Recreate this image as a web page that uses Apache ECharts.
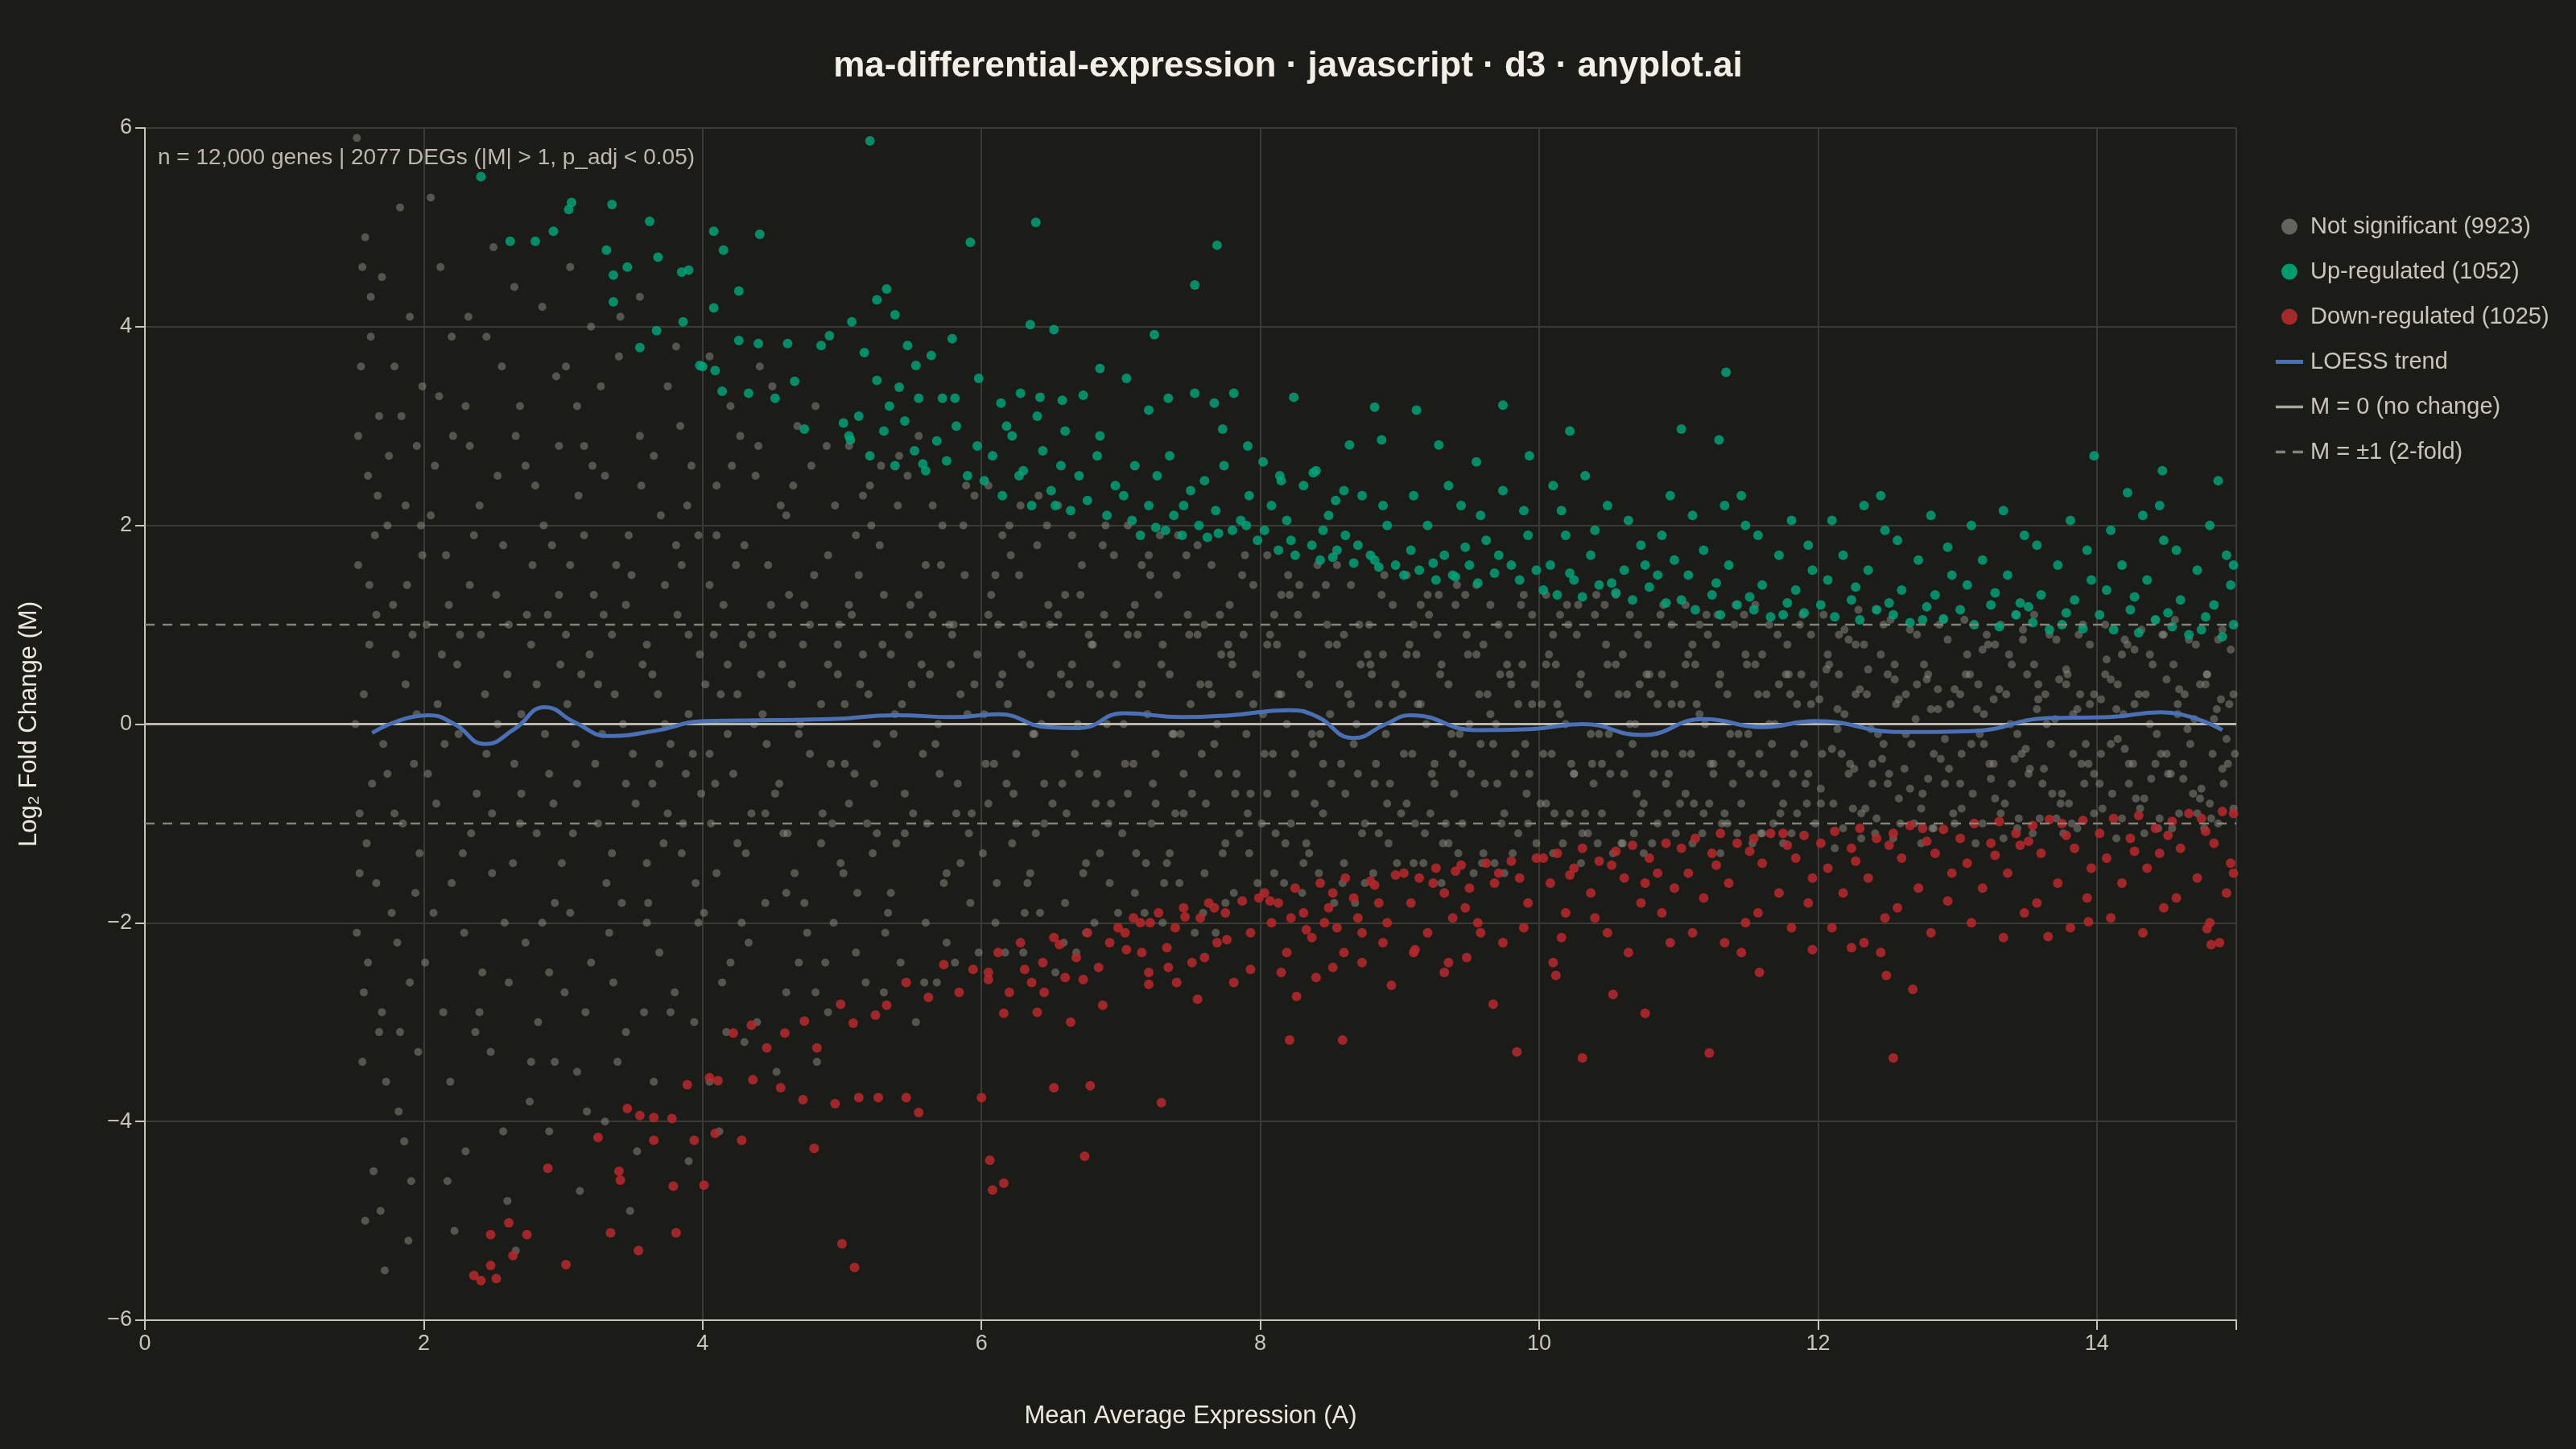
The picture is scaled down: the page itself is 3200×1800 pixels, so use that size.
<!DOCTYPE html>
<html>
<head>
<meta charset="utf-8">
<title>ma-differential-expression</title>
<script src="https://cdn.jsdelivr.net/npm/echarts@6/dist/echarts.min.js"></script>
<style>
  html, body { margin: 0; padding: 0; background: #1b1b18; }
  #chart { width: 3200px; height: 1800px; }
</style>
</head>
<body>
<div id="chart"></div>
<script>
// MA plot data: [A, M] pairs
const notSigPoints = [
  [1.52,5.9],[1.58,4.9],[1.62,4.3],[1.55,3.6],[1.68,3.1],[1.6,2.5],[1.74,2.0],[1.53,1.6],[1.66,1.1],[1.8,0.7],[1.57,0.3],[1.71,-0.2],[1.63,-0.6],[1.85,-1.0],[1.54,-1.5],[1.77,-1.9],[1.6,-2.4],[1.7,-2.9],[1.56,-3.4],[1.82,-3.9],[1.64,-4.5],[1.58,-5.0],[1.72,-5.5],[1.9,4.1],[1.95,2.8],[1.88,1.4],[1.93,-0.4],[1.97,-1.3],[1.9,-2.6],[1.86,-4.2],[1.99,3.4],[1.92,0.9],[1.83,5.2],[1.68,-3.1],[1.75,2.7],[1.61,0.8],[1.79,-0.9],[1.52,-2.1],[1.65,1.9],[1.96,-3.3],
  [1.51,0.0],[1.59,-1.2],[1.67,2.3],[1.73,-3.6],[1.56,4.6],[1.81,-2.2],[1.62,3.9],[1.69,-4.9],[1.78,1.2],[1.54,-0.9],[1.87,0.4],[1.94,-1.7],[1.98,2.0],[1.89,-5.2],[1.84,3.1],
  [1.53,2.9],[1.57,-2.7],[1.61,1.4],[1.66,-1.6],[1.7,4.5],[1.74,-0.5],[1.79,3.6],[1.83,-3.1],[1.87,2.2],[1.91,-4.6],[1.95,0.1],[1.99,1.7],
  [2.05,5.3],[2.12,4.6],[2.2,3.9],[2.3,3.2],[2.08,2.6],[2.4,2.2],[2.16,1.7],[2.52,1.3],[2.26,0.9],[2.6,0.5],[2.1,0.2],[2.45,-0.3],[2.7,-0.7],[2.34,-1.1],[2.2,-1.6],[2.58,-2.0],[2.9,-2.5],[2.14,-2.9],[2.48,-3.3],[2.76,-3.8],[2.3,-4.3],[2.6,-4.8],[2.22,-5.1],[2.85,4.2],[2.95,3.5],[2.66,2.9],[2.8,2.4],[2.92,1.8],[2.74,1.1],[2.98,0.6],[2.87,-0.1],[2.64,-1.4],[2.94,-1.8],[2.82,-3.0],[2.5,4.8],[2.38,-0.7],[2.7,0.1],[2.18,1.2],[2.56,3.6],[2.42,-2.5],[2.66,-5.3],[2.03,-0.5],[2.9,-4.1],[2.33,2.8],[2.78,1.6],
  [2.02,1.0],[2.07,-1.9],[2.11,3.3],[2.15,-0.2],[2.19,-3.6],[2.24,0.6],[2.28,-1.3],[2.32,4.1],[2.36,1.9],[2.4,-2.9],[2.44,0.3],[2.49,-0.9],[2.53,2.5],[2.57,-4.1],[2.61,1.0],[2.65,-0.4],[2.69,3.2],[2.73,-2.2],[2.77,0.8],[2.81,-1.1],[2.86,2.0],[2.9,-0.5],[2.94,-3.4],[2.97,1.3],[2.99,-1.4],
  [2.01,-2.4],[2.05,2.1],[2.09,-0.8],[2.13,0.7],[2.17,-4.6],[2.21,2.9],[2.25,-0.1],[2.29,-2.1],[2.33,1.4],[2.37,-3.1],[2.41,0.9],[2.45,3.9],[2.49,-1.5],[2.53,0.0],[2.57,1.8],[2.61,-2.6],[2.65,4.4],[2.69,-1.0],[2.73,2.6],[2.77,-3.4],[2.81,0.4],[2.85,-2.0],[2.89,1.1],[2.93,-0.8],[2.97,2.8],
  [3.05,4.6],[3.2,4.0],[3.4,3.7],[3.1,3.2],[3.55,2.9],[3.3,2.5],[3.7,2.1],[3.15,1.9],[3.85,1.6],[3.45,1.2],[3.6,0.8],[3.25,0.4],[3.9,0.1],[3.5,-0.3],[3.1,-0.6],[3.75,-0.9],[3.35,-1.3],[3.95,-1.6],[3.6,-2.0],[3.2,-2.4],[3.8,-2.7],[3.45,-3.1],[3.1,-3.5],[3.65,-3.6],[3.3,-4.0],[3.9,-4.4],[3.55,4.3],[3.75,3.4],[3.92,2.6],[3.15,2.8],[3.38,1.6],[3.82,1.1],[3.02,0.9],[3.68,0.3],[3.28,-0.1],[3.88,-0.5],[3.42,-1.8],[3.05,-1.9],[3.72,-1.2],[3.58,-2.9],[3.12,-4.7],[3.48,-4.9],[3.22,1.3],[3.64,-0.6],[3.98,0.7],[3.36,-2.6],[3.84,3.0],[3.02,3.6],
  [3.03,0.2],[3.07,-1.1],[3.11,2.3],[3.16,-2.9],[3.19,0.7],[3.23,-0.4],[3.27,3.4],[3.31,-1.6],[3.35,0.9],[3.39,-3.4],[3.43,0.0],[3.47,1.9],[3.52,-0.8],[3.56,2.4],[3.6,-1.4],[3.64,0.5],[3.69,-2.3],[3.73,1.4],[3.77,-0.2],[3.81,3.8],[3.86,-1.0],[3.9,0.9],[3.94,-3.0],[3.97,1.9],[3.99,-0.7],
  [3.01,-2.7],[3.05,1.6],[3.09,-0.2],[3.13,0.5],[3.17,-3.9],[3.21,2.6],[3.25,-1.0],[3.29,1.1],[3.33,-2.1],[3.37,0.3],[3.41,4.1],[3.45,-0.6],[3.49,1.5],[3.53,-4.3],[3.57,0.6],[3.61,-1.8],[3.65,2.7],[3.69,-0.4],[3.73,0.0],[3.77,-2.9],[3.81,1.8],[3.85,-1.3],[3.89,2.2],[3.93,-0.3],[3.97,-2.0],
  [4.05,3.7],[4.2,3.2],[4.4,2.8],[4.1,2.4],[4.6,2.1],[4.3,1.8],[4.8,1.5],[4.15,1.2],[4.5,0.9],[4.9,0.6],[4.25,0.3],[4.7,0.0],[4.05,-0.3],[4.55,-0.6],[4.35,-0.9],[4.85,-1.2],[4.1,-1.5],[4.45,-1.8],[4.75,-2.1],[4.2,-2.4],[4.6,-2.7],[4.9,-2.9],[4.3,-3.2],[4.05,-3.6],[4.5,3.4],[4.78,2.6],[4.95,2.2],[4.62,1.3],[4.42,0.5],[4.18,-0.1],[4.92,-0.4],[4.66,-1.5],[4.28,-2.0],[4.88,-2.4],[4.12,-4.1],[4.38,2.5],[4.72,0.8],[4.98,1.0],[4.08,0.9],[4.58,-1.1],[4.82,-3.4],[4.24,1.6],[4.46,-0.2],[4.68,3.0],
  [4.02,0.4],[4.06,-1.0],[4.1,1.9],[4.14,-2.6],[4.18,0.6],[4.22,-0.5],[4.27,2.9],[4.31,-1.3],[4.35,0.9],[4.39,-3.0],[4.43,0.1],[4.47,1.6],[4.52,-0.7],[4.56,2.2],[4.6,-1.7],[4.64,0.4],[4.69,-2.4],[4.73,1.2],[4.77,-0.3],[4.81,3.2],[4.86,-0.9],[4.9,1.7],[4.94,-2.0],[4.97,0.5],[4.99,-1.4],
  [4.01,-1.9],[4.05,1.4],[4.09,-0.6],[4.13,0.3],[4.17,-3.1],[4.21,2.6],[4.25,-1.2],[4.29,0.8],[4.33,-2.2],[4.37,0.0],[4.41,3.6],[4.45,-0.9],[4.49,1.2],[4.53,-3.5],[4.57,0.6],[4.61,-1.1],[4.65,2.4],[4.69,-0.1],[4.73,-1.8],[4.77,1.0],[4.81,-2.7],[4.85,0.2],[4.89,2.8],[4.93,-1.0],[4.97,0.8],
  [5.05,2.8],[5.2,2.4],[5.4,2.2],[5.1,1.9],[5.6,1.6],[5.3,1.3],[5.8,1.0],[5.15,0.7],[5.5,0.4],[5.9,0.1],[5.25,-0.2],[5.7,-0.5],[5.05,-0.8],[5.45,-1.1],[5.85,-1.4],[5.35,-1.7],[5.6,-2.0],[5.1,-2.3],[5.75,-2.2],[5.3,-2.7],[5.55,2.9],[5.95,2.3],[5.65,1.1],[5.38,0.1],[5.82,-0.9],[5.22,-1.3],[5.92,-1.8],[5.48,0.9],[5.02,0.2],[5.68,-2.6],[5.12,1.5],[5.78,0.6],[5.58,-0.3],[5.28,2.6],[5.88,1.5],[5.42,-2.4],[5.18,-1.0],[5.72,2.0],
  [5.02,-0.4],[5.07,1.1],[5.11,-1.7],[5.15,2.3],[5.19,0.3],[5.23,-0.6],[5.27,1.8],[5.31,-2.1],[5.35,0.7],[5.39,-1.2],[5.43,0.2],[5.47,2.5],[5.51,-0.9],[5.55,1.3],[5.59,-2.6],[5.63,0.5],[5.67,-0.2],[5.71,1.6],[5.75,-1.5],[5.79,0.9],[5.83,-0.6],[5.87,2.0],[5.91,-1.1],[5.95,0.4],[5.98,-2.3],
  [5.01,-1.5],[5.05,1.2],[5.09,-0.5],[5.13,0.4],[5.17,-2.6],[5.21,2.0],[5.25,-1.1],[5.29,0.8],[5.33,-1.9],[5.37,-0.1],[5.41,2.7],[5.45,-0.7],[5.49,1.2],[5.53,-3.0],[5.57,0.6],[5.61,-1.0],[5.65,2.2],[5.69,0.0],[5.73,-1.6],[5.77,1.0],[5.81,-2.4],[5.85,0.3],[5.89,2.4],[5.93,-0.9],[5.97,0.7],
  [6.05,2.4],[6.2,2.0],[6.4,1.8],[6.1,1.5],[6.6,1.3],[6.3,1.0],[6.8,0.8],[6.15,0.5],[6.5,0.3],[6.9,0.0],[6.25,-0.3],[6.7,-0.5],[6.05,-0.8],[6.45,-1.0],[6.85,-1.3],[6.35,-1.5],[6.6,-1.8],[6.1,-2.0],[6.75,-2.1],[6.3,-2.3],[6.55,2.2],[6.95,1.7],[6.65,0.6],[6.38,-0.1],[6.82,-0.8],[6.22,-1.2],[6.92,-1.6],[6.48,1.2],[6.02,0.1],[6.68,-2.3],[6.12,1.0],[6.78,0.4],[6.58,-0.6],[6.28,2.2],[6.88,1.1],[6.42,-1.9],[6.18,-0.6],[6.72,1.6],
  [6.03,-0.4],[6.07,1.3],[6.11,-1.6],[6.15,1.9],[6.19,0.2],[6.23,-0.7],[6.27,1.5],[6.31,-1.9],[6.35,0.6],[6.39,-1.1],[6.43,0.0],[6.47,2.0],[6.51,-0.8],[6.55,1.1],[6.59,-2.2],[6.63,0.4],[6.67,-0.3],[6.71,1.3],[6.75,-1.4],[6.79,0.8],[6.83,-0.5],[6.87,1.8],[6.91,-1.0],[6.95,0.3],[6.98,-1.9],
  [6.01,-1.3],[6.05,1.1],[6.09,-0.4],[6.13,0.4],[6.17,-2.3],[6.21,1.7],[6.25,-1.0],[6.29,0.7],[6.33,-1.6],[6.37,-0.1],[6.41,2.3],[6.45,-0.6],[6.49,1.0],[6.53,-2.5],[6.57,0.5],[6.61,-0.9],[6.65,1.9],[6.69,0.0],[6.73,-1.5],[6.77,0.9],[6.81,-2.0],[6.85,0.3],[6.89,2.0],[6.93,-0.8],[6.97,0.6],
  [7.05,2.0],[7.2,1.7],[7.4,1.5],[7.1,1.2],[7.6,1.0],[7.3,0.8],[7.8,0.6],[7.15,0.4],[7.5,0.2],[7.9,-0.1],[7.25,-0.3],[7.7,-0.5],[7.05,-0.7],[7.45,-0.9],[7.85,-1.1],[7.35,-1.3],[7.6,-1.5],[7.1,-1.7],[7.75,-1.8],[7.3,-2.0],[7.55,1.8],[7.95,1.4],[7.65,0.3],[7.38,-0.1],[7.82,-0.7],[7.22,-1.0],[7.92,-1.3],[7.48,1.1],[7.02,0.0],[7.68,-2.1],[7.12,0.9],[7.78,1.2],[7.58,-0.3],[7.28,1.9],[7.88,0.9],[7.42,-1.6],[7.18,-1.4],[7.72,0.7],
  [7.03,-0.4],[7.07,1.1],[7.11,-1.3],[7.15,1.6],[7.19,0.1],[7.23,-0.6],[7.27,1.3],[7.31,-1.6],[7.35,0.5],[7.39,-0.9],[7.43,-0.1],[7.47,1.7],[7.51,-0.7],[7.55,0.9],[7.59,-1.9],[7.63,0.4],[7.67,-0.2],[7.71,1.1],[7.75,-1.2],[7.79,0.7],[7.83,-0.5],[7.87,1.5],[7.91,-0.9],[7.95,0.2],[7.98,-1.6],
  [7.01,-1.1],[7.05,0.9],[7.09,-0.4],[7.13,0.3],[7.17,-1.9],[7.21,1.5],[7.25,-0.8],[7.29,0.6],[7.33,-1.4],[7.37,-0.1],[7.41,1.9],[7.45,-0.5],[7.49,0.9],[7.53,-2.1],[7.57,0.4],[7.61,-0.8],[7.65,1.6],[7.69,0.0],[7.73,-1.3],[7.77,0.8],[7.81,-1.7],[7.85,0.3],[7.89,1.7],[7.93,-0.7],[7.97,0.5],
  [8.05,1.7],[8.2,1.5],[8.4,1.3],[8.1,1.1],[8.6,0.9],[8.3,0.7],[8.8,0.5],[8.15,0.3],[8.5,0.1],[8.9,-0.1],[8.25,-0.3],[8.7,-0.5],[8.05,-0.7],[8.45,-0.9],[8.85,-1.1],[8.35,-1.3],[8.6,-1.4],[8.1,-1.5],[8.75,-1.6],[8.3,-1.7],[8.55,1.6],[8.95,1.2],[8.65,0.2],[8.38,-0.2],[8.82,-0.6],[8.22,-1.0],[8.92,-1.2],[8.48,1.0],[8.02,0.1],[8.68,-1.8],[8.12,0.8],[8.78,1.0],[8.58,-0.4],[8.28,1.4],[8.88,0.7],[8.42,-1.5],[8.18,-1.2],[8.72,0.6],
  [8.03,-0.3],[8.07,0.9],[8.11,-1.1],[8.15,1.3],[8.19,0.0],[8.23,-0.5],[8.27,1.1],[8.31,-1.4],[8.35,0.4],[8.39,-0.8],[8.43,-0.1],[8.47,1.4],[8.51,-0.6],[8.55,0.8],[8.59,-1.6],[8.63,0.3],[8.67,-0.2],[8.71,1.0],[8.75,-1.0],[8.79,0.6],[8.83,-0.4],[8.87,1.3],[8.91,-0.8],[8.95,0.2],[8.98,-1.4],
  [8.01,-1.0],[8.05,0.8],[8.09,-0.3],[8.13,0.3],[8.17,-1.6],[8.21,1.3],[8.25,-0.7],[8.29,0.5],[8.33,-1.2],[8.37,-0.1],[8.41,1.6],[8.45,-0.4],[8.49,0.8],[8.53,-1.8],[8.57,0.4],[8.61,-0.7],[8.65,1.4],[8.69,0.0],[8.73,-1.1],[8.77,0.7],[8.81,-1.5],[8.85,0.2],[8.89,1.5],[8.93,-0.6],[8.97,0.4],
  [9.05,1.5],[9.2,1.3],[9.4,1.2],[9.1,1.0],[9.6,0.8],[9.3,0.6],[9.8,0.4],[9.15,0.2],[9.5,0.0],[9.9,-0.2],[9.25,-0.4],[9.7,-0.6],[9.05,-0.8],[9.45,-1.0],[9.85,-1.1],[9.35,-1.2],[9.6,-1.3],[9.1,-1.4],[9.75,-1.5],[9.3,-1.6],[9.55,1.4],[9.95,1.1],[9.65,0.1],[9.38,-0.3],[9.82,-0.5],[9.22,-0.9],[9.92,-1.0],[9.48,0.9],[9.02,0.3],[9.68,-1.4],[9.12,0.7],[9.78,0.9],[9.58,-0.2],[9.28,1.3],[9.88,0.6],[9.42,-1.3],[9.18,-1.1],[9.72,0.5],
  [9.03,-0.3],[9.07,0.8],[9.11,-1.0],[9.15,1.2],[9.19,0.0],[9.23,-0.5],[9.27,0.9],[9.31,-1.2],[9.35,0.4],[9.39,-0.7],[9.43,-0.1],[9.47,1.3],[9.51,-0.5],[9.55,0.7],[9.59,-1.4],[9.63,0.3],[9.67,-0.2],[9.71,1.0],[9.75,-0.9],[9.79,0.5],[9.83,-0.3],[9.87,1.2],[9.91,-0.7],[9.95,0.2],[9.98,-1.2],
  [9.01,-0.9],[9.05,0.7],[9.09,-0.3],[9.13,0.2],[9.17,-1.4],[9.21,1.1],[9.25,-0.6],[9.29,0.5],[9.33,-1.0],[9.37,-0.1],[9.41,1.4],[9.45,-0.4],[9.49,0.7],[9.53,-1.5],[9.57,0.3],[9.61,-0.6],[9.65,1.2],[9.69,0.0],[9.73,-1.0],[9.77,0.6],[9.81,-1.3],[9.85,0.2],[9.89,1.3],[9.93,-0.5],[9.97,0.4],
  [10.05,1.3],[10.2,1.2],[10.4,1.1],[10.1,0.9],[10.6,0.7],[10.3,0.5],[10.8,0.3],[10.15,0.1],[10.5,-0.1],[10.9,-0.3],[10.25,-0.5],[10.7,-0.7],[10.05,-0.8],[10.45,-0.9],[10.85,-1.0],[10.35,-1.1],[10.6,-1.2],[10.1,-1.3],[10.75,-1.3],[10.3,-1.4],[10.55,1.3],[10.95,1.0],[10.65,0.0],[10.38,-0.4],[10.82,-0.5],[10.22,-0.9],[10.92,-0.9],[10.48,0.8],[10.02,0.2],[10.68,-1.1],[10.12,0.6],[10.78,0.8],[10.58,-0.3],[10.28,1.2],[10.88,0.5],[10.42,-1.2],[10.18,-1.0],[10.72,0.4],
  [10.03,-0.3],[10.07,0.7],[10.11,-0.9],[10.15,1.1],[10.19,0.0],[10.23,-0.4],[10.27,0.9],[10.31,-1.1],[10.35,0.3],[10.39,-0.6],[10.43,-0.1],[10.47,1.2],[10.51,-0.5],[10.55,0.6],[10.59,-1.2],[10.63,0.3],[10.67,-0.2],[10.71,0.9],[10.75,-0.8],[10.79,0.5],[10.83,-0.3],[10.87,1.1],[10.91,-0.6],[10.95,0.2],[10.98,-1.1],
  [10.01,-0.8],[10.05,0.6],[10.09,-0.3],[10.13,0.2],[10.17,-1.2],[10.21,1.0],[10.25,-0.5],[10.29,0.4],[10.33,-0.9],[10.37,-0.1],[10.41,1.3],[10.45,-0.4],[10.49,0.6],[10.53,-1.3],[10.57,0.3],[10.61,-0.5],[10.65,1.1],[10.69,0.0],[10.73,-0.9],[10.77,0.5],[10.81,-1.2],[10.85,0.2],[10.89,1.2],[10.93,-0.5],[10.97,0.4],
  [11.05,1.2],[11.2,1.1],[11.4,1.0],[11.1,0.8],[11.6,0.7],[11.3,0.5],[11.8,0.3],[11.15,0.1],[11.5,-0.1],[11.9,-0.2],[11.25,-0.4],[11.7,-0.6],[11.05,-0.7],[11.45,-0.8],[11.85,-0.9],[11.35,-1.0],[11.6,-1.1],[11.1,-1.2],[11.75,-1.2],[11.3,-1.3],[11.55,1.2],[11.95,0.9],[11.65,0.0],[11.38,-0.3],[11.82,-0.5],[11.22,-0.8],[11.92,-0.8],[11.48,0.7],[11.02,0.2],[11.68,-1.0],[11.12,0.6],[11.78,0.8],[11.58,-0.3],[11.28,1.1],[11.88,0.5],[11.42,-1.1],[11.18,-0.9],[11.72,0.4],
  [11.03,-0.3],[11.07,0.7],[11.11,-0.8],[11.15,1.0],[11.19,0.0],[11.23,-0.4],[11.27,0.8],[11.31,-1.0],[11.35,0.3],[11.39,-0.6],[11.43,-0.1],[11.47,1.1],[11.51,-0.5],[11.55,0.6],[11.59,-1.1],[11.63,0.3],[11.67,-0.2],[11.71,0.9],[11.75,-0.8],[11.79,0.5],[11.83,-0.3],[11.87,1.0],[11.91,-0.6],[11.95,0.2],[11.98,-1.0],
  [11.01,-0.8],[11.05,0.6],[11.09,-0.3],[11.13,0.2],[11.17,-1.1],[11.21,0.9],[11.25,-0.5],[11.29,0.4],[11.33,-0.9],[11.37,-0.1],[11.41,1.2],[11.45,-0.4],[11.49,0.6],[11.53,-1.2],[11.57,0.3],[11.61,-0.5],[11.65,1.0],[11.69,0.0],[11.73,-0.9],[11.77,0.5],[11.81,-1.1],[11.85,0.2],[11.89,1.1],[11.93,-0.5],[11.97,0.4],
  [12.04,1.1],[12.19,0.95],[12.33,0.8],[12.08,0.6],[12.55,0.45],[12.27,0.3],[12.81,0.15],[12.14,-0.05],[12.47,-0.2],[12.88,-0.35],[12.22,-0.5],[12.66,-0.65],[12.02,-0.8],[12.42,-0.95],[12.83,-1.05],[12.31,-1.15],[12.58,-0.75],[12.12,-1.25],[12.74,-1.2],[12.36,0.55],[12.52,1.05],[12.93,0.85],[12.63,-0.1],[12.39,-0.4],[12.79,-0.55],[12.25,-0.85],[12.97,-0.9],[12.45,0.7],[12.01,0.25],[12.69,-1.0],[12.15,0.9],[12.76,0.6],[12.56,0.2],[12.29,1.15],[12.86,0.35],[12.41,-1.1],[12.17,-0.3],[12.71,0.4],[12.5,-0.6],[12.91,-0.15],
  [12.03,-0.3],[12.07,0.7],[12.11,-0.8],[12.15,0.5],[12.19,0.1],[12.23,-0.4],[12.27,0.8],[12.31,-0.9],[12.35,0.3],[12.39,-0.6],[12.43,-0.1],[12.47,1.0],[12.51,-0.5],[12.55,0.6],[12.59,-1.0],[12.63,0.3],[12.67,-0.2],[12.71,0.9],[12.75,-0.7],[12.79,0.5],[12.83,-0.3],[12.87,1.0],[12.91,-0.6],[12.95,0.2],[12.98,-1.0],
  [12.02,-0.65],[12.06,0.55],[12.1,-0.25],[12.14,0.15],[12.18,-1.05],[12.22,0.85],[12.26,-0.45],[12.3,0.35],[12.34,-0.85],[12.38,-0.05],[12.42,1.15],[12.46,-0.35],[12.5,0.5],[12.54,-1.15],[12.58,0.25],[12.62,-0.45],[12.66,0.95],[12.7,0.05],[12.74,-0.85],[12.78,0.45],[12.82,-1.05],[12.86,0.15],[12.9,1.05],[12.94,-0.45],[12.98,0.35],
  [13.05,1.05],[13.21,0.9],[13.37,0.7],[13.09,0.5],[13.58,0.4],[13.26,0.25],[13.83,0.1],[13.16,-0.1],[13.49,-0.25],[13.89,-0.4],[13.24,-0.55],[13.68,-0.7],[13.03,-0.85],[13.44,-0.95],[13.86,-1.05],[13.33,-1.15],[13.61,-0.6],[13.13,-1.2],[13.76,-1.1],[13.39,0.6],[13.55,1.1],[13.95,0.8],[13.64,0.0],[13.41,-0.35],[13.8,-0.8],[13.27,-0.75],[13.98,-0.5],[13.47,0.85],[13.02,0.3],[13.71,-0.95],[13.18,0.75],[13.78,0.55],[13.57,0.15],[13.31,1.0],[13.88,0.3],[13.43,-1.05],[13.19,-0.2],[13.73,0.45],[13.52,-0.45],[13.92,-0.2],
  [13.03,-0.3],[13.07,0.7],[13.11,-0.7],[13.15,0.4],[13.19,0.1],[13.23,-0.4],[13.27,0.8],[13.31,-0.9],[13.35,0.3],[13.39,-0.6],[13.43,-0.1],[13.47,0.95],[13.51,-0.5],[13.55,0.6],[13.59,-0.95],[13.63,0.3],[13.67,-0.2],[13.71,0.85],[13.75,-0.7],[13.79,0.5],[13.83,-0.3],[13.87,0.9],[13.91,-0.6],[13.95,0.2],[13.98,-0.9],
  [13.02,-0.6],[13.06,0.5],[13.1,-0.2],[13.14,0.15],[13.18,-1.0],[13.22,0.8],[13.26,-0.4],[13.3,0.35],[13.34,-0.8],[13.38,0.0],[13.42,1.1],[13.46,-0.3],[13.5,0.5],[13.54,-1.1],[13.58,0.25],[13.62,-0.45],[13.66,0.9],[13.7,0.05],[13.74,-0.8],[13.78,0.4],[13.82,-1.0],[13.86,0.15],[13.9,1.0],[13.94,-0.4],[13.98,0.3],
  [14.06,1.0],[14.2,0.85],[14.38,0.7],[14.1,0.45],[14.59,0.35],[14.27,0.2],[14.84,0.05],[14.15,-0.15],[14.5,-0.3],[14.9,-0.45],[14.23,-0.6],[14.69,-0.7],[14.04,-0.85],[14.45,-0.95],[14.87,-1.0],[14.34,-1.1],[14.62,-0.55],[14.14,-1.15],[14.77,-1.05],[14.4,0.6],[14.56,1.05],[14.96,0.75],[14.65,-0.05],[14.42,-0.4],[14.81,-0.8],[14.28,-0.75],[14.99,-0.3],[14.48,0.9],[14.03,0.25],[14.72,-0.9],[14.18,0.7],[14.79,0.5],[14.58,0.1],[14.32,0.95],[14.89,0.25],[14.44,-1.05],[14.2,-0.25],[14.74,0.4],[14.53,-0.5],[14.93,-0.15],
  [14.03,-0.3],[14.07,0.65],[14.11,-0.7],[14.15,0.4],[14.19,0.1],[14.23,-0.4],[14.27,0.75],[14.31,-0.85],[14.35,0.3],[14.39,-0.55],[14.43,-0.1],[14.47,0.9],[14.51,-0.5],[14.55,0.6],[14.59,-0.9],[14.63,0.3],[14.67,-0.2],[14.71,0.8],[14.75,-0.65],[14.79,0.5],[14.83,-0.3],[14.87,0.85],[14.91,-0.6],[14.95,0.2],[14.98,-0.85],
  [14.02,-0.6],[14.06,0.5],[14.1,-0.2],[14.14,0.15],[14.18,-0.95],[14.22,0.8],[14.26,-0.4],[14.3,0.3],[14.34,-0.75],[14.38,0.0],[14.42,1.05],[14.46,-0.3],[14.5,0.45],[14.54,-1.05],[14.58,0.2],[14.62,-0.4],[14.66,0.85],[14.7,0.05],[14.74,-0.75],[14.78,0.4],[14.82,-0.95],[14.86,0.15],[14.9,0.95],[14.94,-0.4],[14.98,0.3]
];

const upPoints = [
  [2.41,5.51],[5.2,5.87],[2.62,4.86],[2.8,4.86],[2.93,4.96],[3.04,5.18],[3.06,5.25],[3.35,5.23],[3.31,4.77],[3.36,4.52],[3.46,4.6],[3.36,4.25],[3.62,5.06],[3.68,4.7],[3.85,4.55],[3.9,4.57],[4.08,4.96],[4.15,4.77],[4.26,4.36],[4.41,4.93],[4.08,4.19],[3.55,3.79],[3.67,3.96],[3.86,4.05],[3.98,3.61],[4.0,3.6],[4.09,3.56],[4.26,3.86],[4.4,3.83],[4.14,3.35],[4.33,3.33],[4.61,3.83],[4.85,3.81],[4.91,3.91],[5.07,4.05],[5.16,3.74],[5.25,4.27],[5.32,4.38],[5.38,4.12],[5.47,3.81],[5.53,3.61],[5.64,3.71],[5.79,3.88],[5.92,4.85],[6.39,5.05],[6.35,4.02],[6.52,3.97],[7.69,4.82],[7.53,4.42],[7.24,3.92],
  [4.66,3.45],[4.52,3.28],[4.73,2.97],[5.01,3.03],[5.06,2.86],[5.25,3.46],[5.41,3.39],[5.55,3.28],[5.72,3.28],[5.81,3.28],[5.98,3.48],[6.14,3.23],[6.28,3.33],[6.42,3.29],[6.58,3.26],[6.73,3.31],[6.85,3.58],[7.04,3.48],[7.2,3.16],[7.34,3.28],[7.53,3.33],[7.67,3.23],[7.81,3.33],[7.73,2.97],[7.91,2.8],[8.24,3.29],[8.02,2.64],[8.14,2.5],[8.38,2.53],[8.54,2.25],[8.64,2.81],[8.82,3.19],[8.87,2.86],[9.12,3.16],[9.28,2.81],[9.55,2.64],[9.74,3.21],[9.93,2.7],[10.22,2.95],[10.33,2.5],[11.02,2.97],[11.29,2.86],[11.34,3.54],[13.98,2.7],[14.47,2.55],[14.22,2.33],[14.87,2.45],
  [5.05,2.9],[5.12,3.1],[5.2,2.7],[5.3,2.95],[5.38,2.6],[5.45,3.05],[5.52,2.75],[5.6,2.55],[5.68,2.85],[5.75,2.65],[5.82,3.0],[5.9,2.5],[5.97,2.8],[5.58,2.62],[5.34,3.2],
  [6.02,2.45],[6.08,2.7],[6.15,2.3],[6.22,2.9],[6.3,2.55],[6.36,2.2],[6.44,2.75],[6.5,2.35],[6.57,2.6],[6.64,2.15],[6.7,2.5],[6.76,2.25],[6.83,2.7],[6.9,2.1],[6.96,2.4],[6.4,3.1],[6.6,2.95],[6.85,2.9],[6.18,3.0],[6.53,2.2],[6.27,2.5],
  [7.02,2.3],[7.08,2.05],[7.14,1.9],[7.2,2.2],[7.26,2.5],[7.32,1.95],[7.38,2.1],[7.44,1.9],[7.5,2.35],[7.56,2.0],[7.62,1.88],[7.68,2.15],[7.74,2.6],[7.8,1.95],[7.86,2.05],[7.92,2.3],[7.98,1.85],[7.35,2.7],[7.6,2.45],[7.1,2.6],[7.7,1.92],[7.45,2.2],[7.9,2.0],[7.25,1.98],
  [8.03,1.95],[8.08,2.2],[8.13,1.75],[8.19,2.05],[8.25,1.7],[8.31,2.4],[8.37,1.8],[8.43,1.65],[8.49,2.1],[8.55,1.75],[8.61,1.9],[8.67,1.62],[8.73,2.3],[8.79,1.7],[8.85,1.58],[8.91,2.0],[8.97,1.6],[8.4,2.55],[8.6,2.35],[8.22,1.85],[8.52,1.68],[8.7,1.8],[8.88,2.2],[8.15,2.45],[8.45,1.95],[8.82,1.65],
  [9.03,1.5],[9.08,1.75],[9.14,1.55],[9.2,2.0],[9.26,1.45],[9.32,1.7],[9.38,1.5],[9.44,2.2],[9.5,1.6],[9.56,1.42],[9.62,1.85],[9.68,1.52],[9.74,2.35],[9.8,1.6],[9.86,1.45],[9.92,1.9],[9.98,1.55],[9.1,2.3],[9.35,2.4],[9.58,2.1],[9.24,1.62],[9.47,1.78],[9.71,1.7],[9.89,2.15],[9.4,1.48],
  [10.03,1.35],[10.08,1.6],[10.13,1.3],[10.19,1.9],[10.25,1.45],[10.31,1.28],[10.37,1.7],[10.43,1.4],[10.49,2.2],[10.55,1.32],[10.61,1.55],[10.67,1.25],[10.73,1.8],[10.79,1.38],[10.85,1.5],[10.91,1.22],[10.97,1.65],[10.16,2.15],[10.4,1.95],[10.64,2.05],[10.88,1.9],[10.22,1.52],[10.52,1.42],[10.76,1.6],[10.94,2.3],[10.1,2.4],
  [11.02,1.25],[11.07,1.5],[11.12,1.15],[11.18,1.75],[11.24,1.3],[11.3,1.1],[11.36,1.6],[11.42,1.2],[11.48,2.0],[11.54,1.15],[11.6,1.4],[11.66,1.08],[11.72,1.7],[11.78,1.22],[11.84,1.35],[11.9,1.12],[11.96,1.55],[11.1,2.1],[11.33,2.2],[11.57,1.9],[11.81,2.05],[11.27,1.42],[11.51,1.28],[11.75,1.1],[11.93,1.8],[11.45,2.3],
  [12.02,1.2],[12.07,1.45],[12.12,1.08],[12.18,1.7],[12.24,1.25],[12.3,1.05],[12.36,1.55],[12.42,1.15],[12.48,1.95],[12.54,1.1],[12.6,1.35],[12.66,1.02],[12.72,1.65],[12.78,1.18],[12.84,1.3],[12.9,1.06],[12.96,1.5],[12.1,2.05],[12.33,2.2],[12.57,1.85],[12.81,2.1],[12.27,1.38],[12.51,1.22],[12.75,1.05],[12.93,1.78],[12.45,2.3],
  [13.02,1.15],[13.07,1.4],[13.12,1.0],[13.18,1.65],[13.24,1.2],[13.3,0.98],[13.36,1.5],[13.42,1.1],[13.48,1.9],[13.54,1.02],[13.6,1.3],[13.66,0.95],[13.72,1.6],[13.78,1.12],[13.84,1.25],[13.9,0.96],[13.96,1.45],[13.1,2.0],[13.33,2.15],[13.57,1.8],[13.81,2.05],[13.27,1.32],[13.51,1.18],[13.75,1.0],[13.93,1.75],[13.45,1.22],
  [14.02,1.1],[14.07,1.35],[14.12,0.95],[14.18,1.6],[14.24,1.15],[14.3,0.92],[14.36,1.45],[14.42,1.05],[14.48,1.85],[14.54,0.98],[14.6,1.25],[14.66,0.9],[14.72,1.55],[14.78,1.08],[14.84,1.2],[14.9,0.88],[14.96,1.4],[14.1,1.95],[14.33,2.1],[14.57,1.75],[14.81,2.0],[14.27,1.28],[14.51,1.12],[14.75,0.95],[14.93,1.7],[14.45,2.2],[14.98,1.0],[14.98,1.6]
];

const downPoints = [
  [2.36,-5.55],[2.41,-5.6],[2.48,-5.45],[2.52,-5.58],[2.48,-5.14],[2.61,-5.02],[2.64,-5.35],[2.74,-5.14],[3.02,-5.44],[3.34,-5.12],[3.54,-5.3],[3.81,-5.12],[5.0,-5.23],[5.09,-5.47],
  [2.89,-4.47],[3.25,-4.16],[3.4,-4.5],[3.41,-4.59],[3.65,-4.19],[3.79,-4.65],[3.94,-4.19],[4.01,-4.64],[4.09,-4.12],[4.28,-4.19],[4.8,-4.27],[6.06,-4.39],[6.08,-4.69],[6.16,-4.62],[6.74,-4.35],
  [3.46,-3.87],[3.55,-3.94],[3.65,-3.96],[3.78,-3.97],[3.89,-3.63],[4.05,-3.56],[4.11,-3.59],[4.36,-3.58],[4.56,-3.66],[4.72,-3.78],[4.95,-3.82],[5.12,-3.76],[5.26,-3.76],[5.46,-3.76],[5.55,-3.91],[6.0,-3.76],[6.52,-3.66],[6.78,-3.64],[7.29,-3.81],
  [4.22,-3.11],[4.35,-3.03],[4.46,-3.26],[4.59,-3.11],[4.73,-2.99],[4.82,-3.26],[4.99,-2.82],[5.08,-3.01],[5.24,-2.93],[5.32,-2.83],[5.46,-2.6],[5.62,-2.75],[5.73,-2.42],[5.84,-2.7],[5.94,-2.47],[6.05,-2.57],[6.16,-2.91],[6.31,-2.47],[6.45,-2.7],[6.56,-2.22],[6.73,-2.57],[6.87,-2.83],[7.04,-2.27],[7.14,-2.0],[7.2,-2.62],[7.34,-2.45],[7.46,-1.94],[7.55,-2.77],[7.67,-1.85],[7.76,-2.17],[7.93,-2.47],[8.07,-1.78],[8.21,-3.18],[8.26,-2.74],[8.33,-2.07],[8.52,-2.45],[8.59,-3.18],[8.73,-2.1],[8.94,-2.63],[9.11,-2.27],[9.32,-2.5],[9.48,-2.35],[9.67,-2.82],[9.84,-3.3],[10.12,-2.53],[10.31,-3.36],[10.53,-2.72],[10.76,-2.91],[11.22,-3.31],[11.58,-2.5],[11.96,-2.27],[12.24,-2.25],[12.54,-3.36],[12.68,-2.67],[12.49,-2.53],[13.65,-2.14],[13.94,-1.99],[14.79,-2.06],[14.88,-2.2],[14.82,-2.22],
  [6.05,-2.5],[6.12,-2.3],[6.2,-2.7],[6.28,-2.2],[6.36,-2.6],[6.44,-2.4],[6.52,-2.15],[6.6,-2.55],[6.68,-2.35],[6.76,-2.1],[6.84,-2.45],[6.92,-2.2],[6.98,-2.05],[6.4,-2.9],[6.64,-3.0],
  [7.03,-2.1],[7.09,-1.95],[7.15,-2.3],[7.21,-2.0],[7.27,-1.9],[7.33,-2.25],[7.39,-2.05],[7.45,-1.85],[7.51,-2.4],[7.57,-1.95],[7.63,-1.8],[7.69,-2.2],[7.75,-1.9],[7.81,-2.6],[7.87,-1.78],[7.93,-2.1],[7.99,-1.75],[7.4,-2.6],[7.6,-2.35],[7.2,-2.5],
  [8.03,-1.7],[8.08,-2.0],[8.13,-1.8],[8.19,-2.3],[8.25,-1.65],[8.31,-1.9],[8.37,-2.15],[8.43,-1.6],[8.49,-1.85],[8.55,-2.05],[8.61,-1.55],[8.67,-1.75],[8.73,-2.4],[8.79,-1.58],[8.85,-1.8],[8.91,-2.0],[8.97,-1.52],[8.4,-2.55],[8.6,-2.3],[8.22,-1.95],[8.52,-1.7],[8.7,-1.95],[8.88,-2.2],[8.15,-2.5],[8.46,-2.0],[8.82,-1.62],
  [9.03,-1.5],[9.08,-1.8],[9.14,-1.55],[9.2,-2.1],[9.26,-1.45],[9.32,-1.7],[9.38,-1.95],[9.44,-1.42],[9.5,-1.65],[9.56,-2.0],[9.62,-1.4],[9.68,-1.6],[9.74,-2.2],[9.8,-1.38],[9.86,-1.55],[9.92,-1.8],[9.98,-1.35],[9.1,-2.3],[9.35,-2.4],[9.58,-2.1],[9.24,-1.6],[9.47,-1.85],[9.71,-1.5],[9.89,-2.05],[9.4,-1.48],
  [10.03,-1.35],[10.08,-1.6],[10.13,-1.3],[10.19,-1.9],[10.25,-1.45],[10.31,-1.25],[10.37,-1.7],[10.43,-1.38],[10.49,-2.1],[10.55,-1.28],[10.61,-1.55],[10.67,-1.22],[10.73,-1.8],[10.79,-1.35],[10.85,-1.5],[10.91,-1.2],[10.97,-1.65],[10.16,-2.15],[10.4,-1.95],[10.64,-2.3],[10.88,-1.9],[10.22,-1.52],[10.52,-1.42],[10.76,-1.6],[10.94,-2.2],[10.1,-2.4],
  [11.02,-1.25],[11.07,-1.5],[11.12,-1.15],[11.18,-1.75],[11.24,-1.3],[11.3,-1.1],[11.36,-1.6],[11.42,-1.2],[11.48,-2.0],[11.54,-1.15],[11.6,-1.4],[11.66,-1.1],[11.72,-1.7],[11.78,-1.22],[11.84,-1.35],[11.9,-1.12],[11.96,-1.55],[11.1,-2.1],[11.33,-2.2],[11.57,-1.9],[11.81,-2.05],[11.27,-1.42],[11.51,-1.28],[11.75,-1.1],[11.93,-1.8],[11.45,-2.3],
  [12.02,-1.2],[12.07,-1.45],[12.12,-1.08],[12.18,-1.7],[12.24,-1.25],[12.3,-1.05],[12.36,-1.55],[12.42,-1.15],[12.48,-1.95],[12.54,-1.1],[12.6,-1.35],[12.66,-1.02],[12.72,-1.65],[12.78,-1.18],[12.84,-1.3],[12.9,-1.06],[12.96,-1.5],[12.1,-2.05],[12.33,-2.2],[12.57,-1.85],[12.81,-2.1],[12.27,-1.38],[12.51,-1.22],[12.75,-1.05],[12.93,-1.78],[12.45,-2.3],
  [13.02,-1.15],[13.07,-1.4],[13.12,-1.0],[13.18,-1.65],[13.24,-1.2],[13.3,-0.98],[13.36,-1.5],[13.42,-1.1],[13.48,-1.9],[13.54,-1.02],[13.6,-1.3],[13.66,-0.96],[13.72,-1.6],[13.78,-1.12],[13.84,-1.25],[13.9,-0.97],[13.96,-1.45],[13.1,-2.0],[13.33,-2.15],[13.57,-1.8],[13.81,-2.05],[13.27,-1.32],[13.51,-1.18],[13.75,-1.0],[13.93,-1.75],[13.45,-1.22],
  [14.02,-1.1],[14.07,-1.35],[14.12,-0.95],[14.18,-1.6],[14.24,-1.15],[14.3,-0.92],[14.36,-1.45],[14.42,-1.05],[14.48,-1.85],[14.54,-0.98],[14.6,-1.25],[14.66,-0.9],[14.72,-1.55],[14.78,-1.08],[14.84,-1.2],[14.9,-0.88],[14.96,-1.4],[14.1,-1.95],[14.33,-2.1],[14.57,-1.75],[14.81,-2.0],[14.27,-1.28],[14.51,-1.12],[14.75,-0.95],[14.93,-1.7],[14.45,-1.3],[14.98,-0.9],[14.98,-1.5]
];

// LOESS trend
const loessA = [1.63, 2.03, 2.22, 2.44, 2.65, 2.87, 3.08, 3.33, 3.65, 4.02, 4.5, 4.92, 5.39, 5.8, 6.12, 6.47, 6.7, 7.02, 7.44, 7.79, 8.2, 8.4, 8.67, 8.9, 9.08, 9.55, 9.94, 10.31, 10.74, 11.18, 11.6, 11.98, 12.6, 13.1, 13.66, 14.09, 14.46, 14.9];
const loessM = [-0.09, 0.09, 0.0, -0.2, -0.05, 0.17, 0.02, -0.12, -0.07, 0.03, 0.04, 0.05, 0.09, 0.07, 0.1, -0.03, -0.04, 0.11, 0.07, 0.09, 0.14, 0.08, -0.14, 0.0, 0.09, -0.06, -0.05, 0.0, -0.11, 0.05, -0.03, 0.03, -0.08, -0.07, 0.06, 0.07, 0.12, -0.06];

// reference lines: M = 0 and M = +/-1 across the A range
const refA = [0, 15];
const foldLevels = [1, -1];

const seriesNames = ['Not significant (9923)', 'Up-regulated (1052)', 'Down-regulated (1025)', 'LOESS trend', 'M = 0 (no change)', 'M = ±1 (2-fold)'];
const xTicks = [0, 2, 4, 6, 8, 10, 12, 14];
const yTicks = [-6, -4, -2, 0, 2, 4, 6];

const FONT = '"Liberation Sans", Arial, Helvetica, sans-serif';
const TEXT = '#c9c5ba';
const COLORS = {
  gray: '#8f8d86',
  up: '#00a57a',
  down: '#b8282d',
  loess: '#4a6fb5',
  zero: '#b9b6ad',
  fold: '#85827a',
  grid: '#3a3a36'
};

// legend line icons (plain strokes, no marker)
const ICON_SOLID_THICK = 'path://M0,0h34v5h-34z';
const ICON_SOLID = 'path://M0,0h34v3.5h-34z';
const ICON_DASHED = 'path://M0,0h12v3.5h-12z M21,0h13v3.5h-13z';

const chart = echarts.init(document.getElementById('chart'), null, { renderer: 'canvas' });

const option = {
  backgroundColor: '#1b1b18',
  animation: false,
  title: {
    text: 'ma-differential-expression · javascript · d3 · anyplot.ai',
    left: 'center',
    top: 56,
    textStyle: { color: '#f2efe6', fontSize: 44, fontWeight: 'bold', fontFamily: FONT }
  },
  grid: { left: 180, right: 422, top: 159, bottom: 160, containLabel: false },
  legend: {
    orient: 'vertical',
    left: 2822,
    top: 262,
    itemWidth: 34,
    itemHeight: 20,
    itemGap: 27,
    textStyle: { color: TEXT, fontSize: 29, fontFamily: FONT, padding: [0, 0, 0, 4] },
    data: [
      { name: seriesNames[0], icon: 'circle', itemStyle: { color: '#64635e', opacity: 1 } },
      { name: seriesNames[1], icon: 'circle', itemStyle: { color: '#009a6e', opacity: 1 } },
      { name: seriesNames[2], icon: 'circle', itemStyle: { color: '#a3292b', opacity: 1 } },
      { name: seriesNames[3], icon: ICON_SOLID_THICK, itemStyle: { color: COLORS.loess } },
      { name: seriesNames[4], icon: ICON_SOLID, itemStyle: { color: '#a9a69d' } },
      { name: seriesNames[5], icon: ICON_DASHED, itemStyle: { color: COLORS.fold } }
    ]
  },
  graphic: [{
    type: 'text',
    left: 196,
    top: 182,
    style: {
      text: 'n = 12,000 genes | 2077 DEGs (|M| > 1, p_adj < 0.05)',
      fill: '#bdb9ae',
      font: '28px ' + FONT
    },
    z: 10
  }],
  xAxis: {
    type: 'value',
    min: 0,
    max: 15,
    interval: 2,
    name: 'Mean Average Expression (A)',
    nameLocation: 'middle',
    nameGap: 104,
    nameTextStyle: { color: '#ece8dd', fontSize: 31, fontFamily: FONT },
    axisLine: { show: true, onZero: false, lineStyle: { color: '#c9c5ba', width: 2 } },
    axisTick: { show: true, length: 12, lineStyle: { color: '#c9c5ba', width: 2 } },
    axisLabel: {
      color: TEXT, fontSize: 27, fontFamily: FONT, margin: 16,
      formatter: v => (xTicks.indexOf(v) >= 0 ? String(v) : '')
    },
    splitLine: { show: true, lineStyle: { color: COLORS.grid, width: 2 } }
  },
  yAxis: {
    type: 'value',
    min: -6,
    max: 6,
    interval: 2,
    name: 'Log₂ Fold Change (M)',
    nameLocation: 'middle',
    nameGap: 128,
    nameTextStyle: { color: '#ece8dd', fontSize: 31, fontFamily: FONT },
    axisLine: { show: true, onZero: false, lineStyle: { color: '#c9c5ba', width: 2 } },
    axisTick: { show: true, length: 12, lineStyle: { color: '#c9c5ba', width: 2 } },
    axisLabel: {
      color: TEXT, fontSize: 27, fontFamily: FONT, margin: 16,
      formatter: v => (yTicks.indexOf(v) >= 0 ? (v < 0 ? '−' + Math.abs(v) : String(v)) : '')
    },
    splitLine: { show: true, lineStyle: { color: COLORS.grid, width: 2 } }
  },
  series: [
    {
      name: seriesNames[0],
      type: 'scatter',
      data: notSigPoints,
      symbolSize: 10,
      itemStyle: { color: COLORS.gray, opacity: 0.5 },
      z: 2
    },
    {
      name: seriesNames[1],
      type: 'scatter',
      data: upPoints,
      symbolSize: 12,
      itemStyle: { color: COLORS.up, opacity: 0.82 },
      z: 4
    },
    {
      name: seriesNames[2],
      type: 'scatter',
      data: downPoints,
      symbolSize: 12,
      itemStyle: { color: COLORS.down, opacity: 0.85 },
      z: 4
    },
    {
      name: seriesNames[3],
      type: 'line',
      data: loessA.map((a, i) => [a, loessM[i]]),
      smooth: 0.5,
      showSymbol: false,
      symbol: 'none',
      lineStyle: { color: COLORS.loess, width: 5 },
      itemStyle: { color: COLORS.loess },
      z: 6
    },
    {
      name: seriesNames[4],
      type: 'line',
      data: refA.map(a => [a, 0]),
      showSymbol: false,
      symbol: 'none',
      lineStyle: { color: COLORS.zero, width: 3 },
      itemStyle: { color: COLORS.zero },
      z: 5
    },
    ...foldLevels.map(level => ({
      name: seriesNames[5],
      type: 'line',
      data: refA.map(a => [a, level]),
      showSymbol: false,
      symbol: 'none',
      lineStyle: { color: COLORS.fold, width: 2.5, type: [12, 10] },
      itemStyle: { color: COLORS.fold },
      z: 5
    }))
  ]
};

chart.setOption(option);
</script>
</body>
</html>
